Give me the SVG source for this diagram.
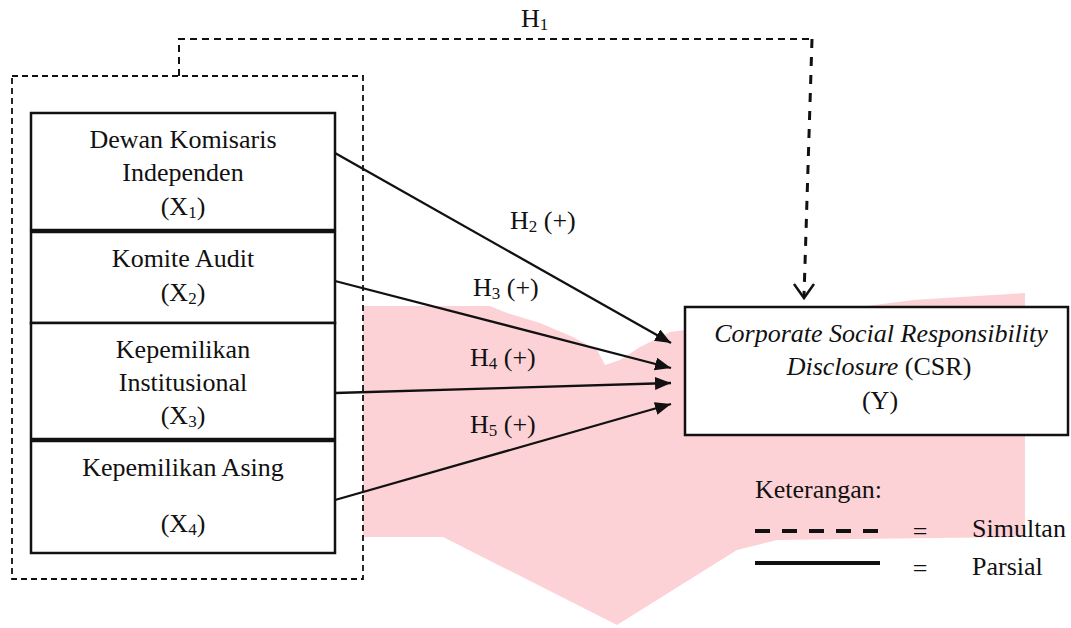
<svg xmlns="http://www.w3.org/2000/svg" width="1071" height="628" viewBox="0 0 1071 628">
<style>
text{font-family:"Liberation Serif","Times New Roman",serif;font-size:26px;fill:#111}
.c{text-anchor:middle}
.box{fill:#fff;stroke:#111;stroke-width:2.5}
.arrow{stroke:#111;stroke-width:2.3;fill:none;marker-end:url(#ah)}
.thin{stroke:#111;stroke-width:1.8;fill:none;stroke-dasharray:6 4}
.sub{font-size:17px}
</style>
<defs>
<marker id="ah" markerUnits="userSpaceOnUse" markerWidth="17" markerHeight="14" refX="16" refY="6.5" orient="auto">
<path d="M0,0 L16,6.5 L0,13 z" fill="#111"/>
</marker>
</defs>
<rect width="1071" height="628" fill="#fff"/>
<g id="watermark">
<polygon fill="#fdd2d6" points="363,306 490,306 507,313 540,323 573,337 597,350 605,365 620,360 640,347 670,332 685,330 913,300 1025,293 1025,537 777,540 737,550 617,625 443,537 363,537"/>
</g>
<g id="group-box">
<rect class="thin" x="12" y="76" width="351" height="503"/>
</g>
<g id="x1">
<rect class="box" x="31" y="113" width="304" height="117"/>
<text class="c" x="183" y="148">Dewan Komisaris</text>
<text class="c" x="183" y="181">Independen</text>
<text class="c" x="183" y="215">(X<tspan class="sub" dy="3">1</tspan><tspan dy="-3">)</tspan></text>
</g>
<g id="x2">
<rect class="box" x="31" y="232" width="304" height="91"/>
<text class="c" x="183" y="267">Komite Audit</text>
<text class="c" x="183" y="301">(X<tspan class="sub" dy="3">2</tspan><tspan dy="-3">)</tspan></text>
</g>
<g id="x3">
<rect class="box" x="31" y="323" width="304" height="116"/>
<text class="c" x="183" y="358">Kepemilikan</text>
<text class="c" x="183" y="391">Institusional</text>
<text class="c" x="183" y="424">(X<tspan class="sub" dy="3">3</tspan><tspan dy="-3">)</tspan></text>
</g>
<g id="x4">
<rect class="box" x="31" y="441" width="304" height="112"/>
<text class="c" x="183" y="476">Kepemilikan Asing</text>
<text class="c" x="183" y="532">(X<tspan class="sub" dy="3">4</tspan><tspan dy="-3">)</tspan></text>
</g>
<g id="y">
<rect class="box" x="685" y="307" width="383" height="128"/>
<text class="c" x="881" y="342" font-style="italic">Corporate Social Responsibility</text>
<text class="c" x="879" y="375"><tspan font-style="italic">Disclosure</tspan> (CSR)</text>
<text class="c" x="880" y="409">(Y)</text>
</g>
<g id="connectors">
<polyline points="179,76 179,39 812,39" fill="none" stroke="#111" stroke-width="2" stroke-dasharray="7 5"/>
<line x1="812" y1="39" x2="804" y2="296" stroke="#111" stroke-width="3" stroke-dasharray="9 9"/>
<polyline points="794,284 804,298 814,284" fill="none" stroke="#111" stroke-width="2.5"/>
<line class="arrow" x1="335" y1="153" x2="671" y2="343"/>
<line class="arrow" x1="335" y1="281" x2="671" y2="368"/>
<line class="arrow" x1="335" y1="393" x2="671" y2="383"/>
<line class="arrow" x1="335" y1="500" x2="671" y2="404"/>
<text x="521" y="27">H<tspan class="sub" dy="3">1</tspan></text>
<text x="510" y="229">H<tspan class="sub" dy="3">2</tspan><tspan dy="-3"> (+)</tspan></text>
<text x="473" y="296">H<tspan class="sub" dy="3">3</tspan><tspan dy="-3"> (+)</tspan></text>
<text x="470" y="366">H<tspan class="sub" dy="3">4</tspan><tspan dy="-3"> (+)</tspan></text>
<text x="470" y="433">H<tspan class="sub" dy="3">5</tspan><tspan dy="-3"> (+)</tspan></text>
</g>
<g id="legend">
<text x="755" y="498">Keterangan:</text>
<line x1="755" y1="531" x2="878" y2="531" stroke="#111" stroke-width="4" stroke-dasharray="15 12"/>
<line x1="755" y1="563" x2="880" y2="563" stroke="#111" stroke-width="4"/>
<text class="c" x="920" y="540">=</text>
<text class="c" x="920" y="577">=</text>
<text x="972" y="537">Simultan</text>
<text x="972" y="575">Parsial</text>
</g>
</svg>
